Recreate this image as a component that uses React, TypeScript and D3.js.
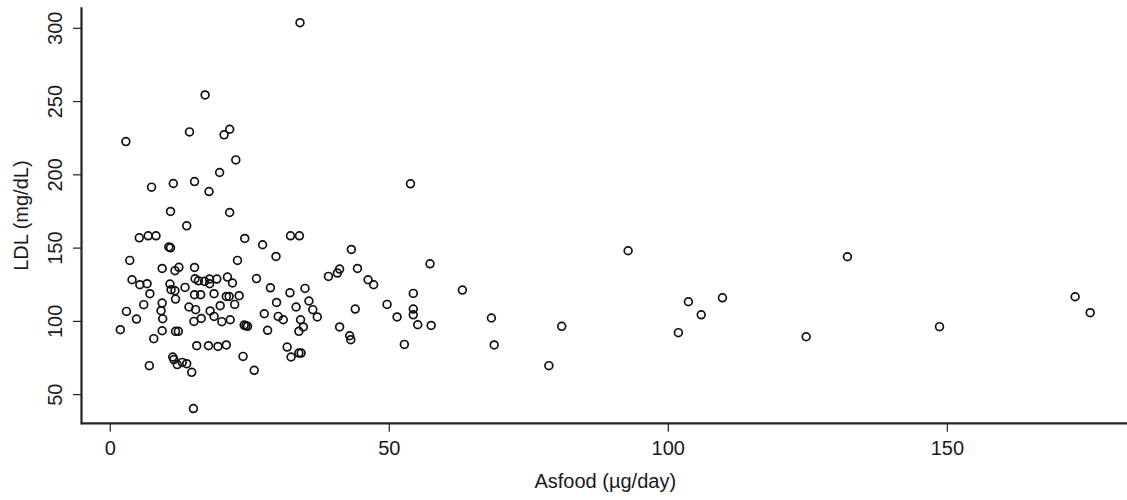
import React from 'react';
import * as d3 from 'd3';

// Asfood intake (µg/day) and LDL (mg/dL)
const asfood = [
    2.8, 34.0, 17.0, 14.2, 20.4, 21.4, 22.5, 19.6, 7.4, 11.3,
    15.1, 17.7, 10.8, 21.4, 13.7, 5.2, 6.8, 8.2, 24.1, 27.3,
    32.3, 33.9, 10.5, 10.8, 29.7, 22.8, 3.5, 9.3, 11.6, 12.3,
    15.1, 3.9, 5.3, 6.6, 7.1, 10.7, 10.9, 11.6, 11.7, 13.4,
    15.2, 15.8, 16.9, 17.8, 17.8, 19.1, 21.0, 21.9, 26.2, 28.7,
    32.2, 34.9, 35.6, 36.3, 37.1, 15.1, 16.2, 18.6, 20.8, 21.3,
    23.1, 22.3, 19.7, 17.9, 18.6, 20.0, 21.5, 14.1, 15.3, 16.3,
    15.0, 9.3, 9.1, 9.4, 6.0, 2.9, 4.7, 1.8, 9.3, 7.8,
    11.7, 12.2, 7.0, 11.2, 11.4, 12.0, 12.9, 13.7, 14.6, 14.9,
    15.5, 17.6, 19.3, 20.8, 23.8, 25.8, 24.0, 24.3, 24.6, 28.2,
    27.6, 29.8, 30.1, 31.0, 33.3, 34.1, 34.6, 33.8, 31.7, 32.4,
    33.8, 34.2, 43.2, 57.3, 63.1, 41.1, 40.7, 39.1, 44.3, 46.2,
    47.2, 54.3, 49.6, 54.3, 54.3, 51.4, 55.1, 57.5, 68.3, 68.8,
    80.9, 78.6, 52.7, 43.9, 41.1, 42.9, 43.1, 92.8, 101.8, 103.6,
    105.9, 109.7, 124.7, 132.1, 148.6, 172.9, 175.6, 53.8
];

const ldl = [
    222.7, 303.8, 254.5, 229.3, 227.3, 231.1, 210.2, 201.6, 191.6, 194.1,
    195.4, 188.6, 175.0, 174.3, 165.2, 157.0, 158.4, 158.4, 156.6, 152.3,
    158.4, 158.4, 150.8, 150.2, 144.3, 141.6, 141.6, 136.1, 134.6, 136.9,
    136.8, 128.4, 125.0, 125.7, 118.9, 125.5, 121.6, 120.9, 115.2, 123.2,
    129.1, 127.7, 127.3, 128.9, 125.7, 128.9, 130.2, 126.2, 129.2, 122.9,
    119.5, 122.5, 113.9, 108.0, 103.0, 118.2, 118.2, 118.9, 117.0, 117.0,
    117.5, 111.6, 110.7, 107.1, 103.4, 99.8, 101.1, 109.8, 108.0, 102.0,
    100.0, 112.5, 107.3, 101.8, 111.4, 106.8, 101.6, 94.3, 93.6, 88.2,
    93.2, 93.2, 69.8, 75.7, 73.9, 70.5, 72.0, 71.1, 65.2, 40.5,
    83.4, 83.4, 82.9, 83.9, 76.1, 66.6, 97.5, 97.0, 96.6, 93.9,
    105.2, 112.9, 103.4, 101.1, 109.8, 101.1, 96.2, 93.2, 82.5, 75.7,
    78.4, 78.4, 149.1, 139.3, 121.4, 135.7, 133.0, 130.7, 136.1, 128.4,
    125.0, 119.1, 111.6, 108.4, 104.5, 103.0, 97.7, 97.2, 102.3, 83.9,
    96.6, 69.8, 84.3, 108.4, 96.2, 90.2, 87.5, 148.2, 92.3, 113.4,
    104.5, 116.1, 89.5, 144.1, 96.4, 116.8, 105.9, 193.9
];

const xTicks = [0, 50, 100, 150];
const yTicks = [50, 100, 150, 200, 250, 300];
const xTitle = 'Asfood (µg/day)';
const yTitle = 'LDL (mg/dL)';

const width = 1127;
const height = 500;
const plot = {left: 81.5, right: 1129, top: 7.3, bottom: 424};
const font = '"Liberation Sans", Arial, sans-serif';

// R style: extend the data range by 4% on each side
function padded(values: number[]): [number, number] {
    const [lo, hi] = d3.extent(values) as [number, number];
    const pad = (hi - lo) * 0.04;
    return [lo - pad, hi + pad];
}

function App() {
    const x = d3.scaleLinear().domain(padded(asfood)).range([plot.left, plot.right]);
    const y = d3.scaleLinear().domain(padded(ldl)).range([plot.bottom, plot.top]);
    const points = asfood.map((a, i) => ({a, l: ldl[i]}));
    const axisY = 423.3;

    return (
        <svg width={width} height={height}
             style={{position: 'absolute', left: 0, top: 0, background: '#fff'}}
             fontFamily={font} fill="#1a1a1a">
            <rect width={width} height={height} fill="#fff"/>
            {/* L-shaped frame */}
            <line x1={plot.left} x2={width} y1={axisY} y2={axisY} stroke="#222" strokeWidth={2.2}/>
            <line x1={plot.left} x2={plot.left} y1={plot.top} y2={axisY + 1.1} stroke="#222" strokeWidth={2.2}/>

            {xTicks.map(t => (
                <g key={'x' + t} transform={`translate(${x(t)},0)`}>
                    <line y1={axisY} y2={axisY + 8.5} stroke="#222" strokeWidth={1.2}/>
                    <text y={455} textAnchor="middle" fontSize={20}>{t}</text>
                </g>
            ))}
            {yTicks.map(t => (
                <g key={'y' + t} transform={`translate(0,${y(t)})`}>
                    <line x1={plot.left} x2={plot.left - 8.5} stroke="#222" strokeWidth={1.2}/>
                    <text transform="translate(62,0) rotate(-90)" textAnchor="middle" fontSize={20}>{t}</text>
                </g>
            ))}

            <text x={(plot.left + plot.right) / 2} y={488} textAnchor="middle" fontSize={20}>{xTitle}</text>
            <text transform={`translate(27.5,${(plot.top + plot.bottom) / 2}) rotate(-90)`}
                  textAnchor="middle" fontSize={20}>{yTitle}</text>

            <g fill="none" stroke="#111" strokeWidth={1.7}>
                {points.map((p, i) => (
                    <circle key={i} cx={x(p.a)} cy={y(p.l)} r={3.9}/>
                ))}
            </g>
        </svg>
    );
}

export default App;
